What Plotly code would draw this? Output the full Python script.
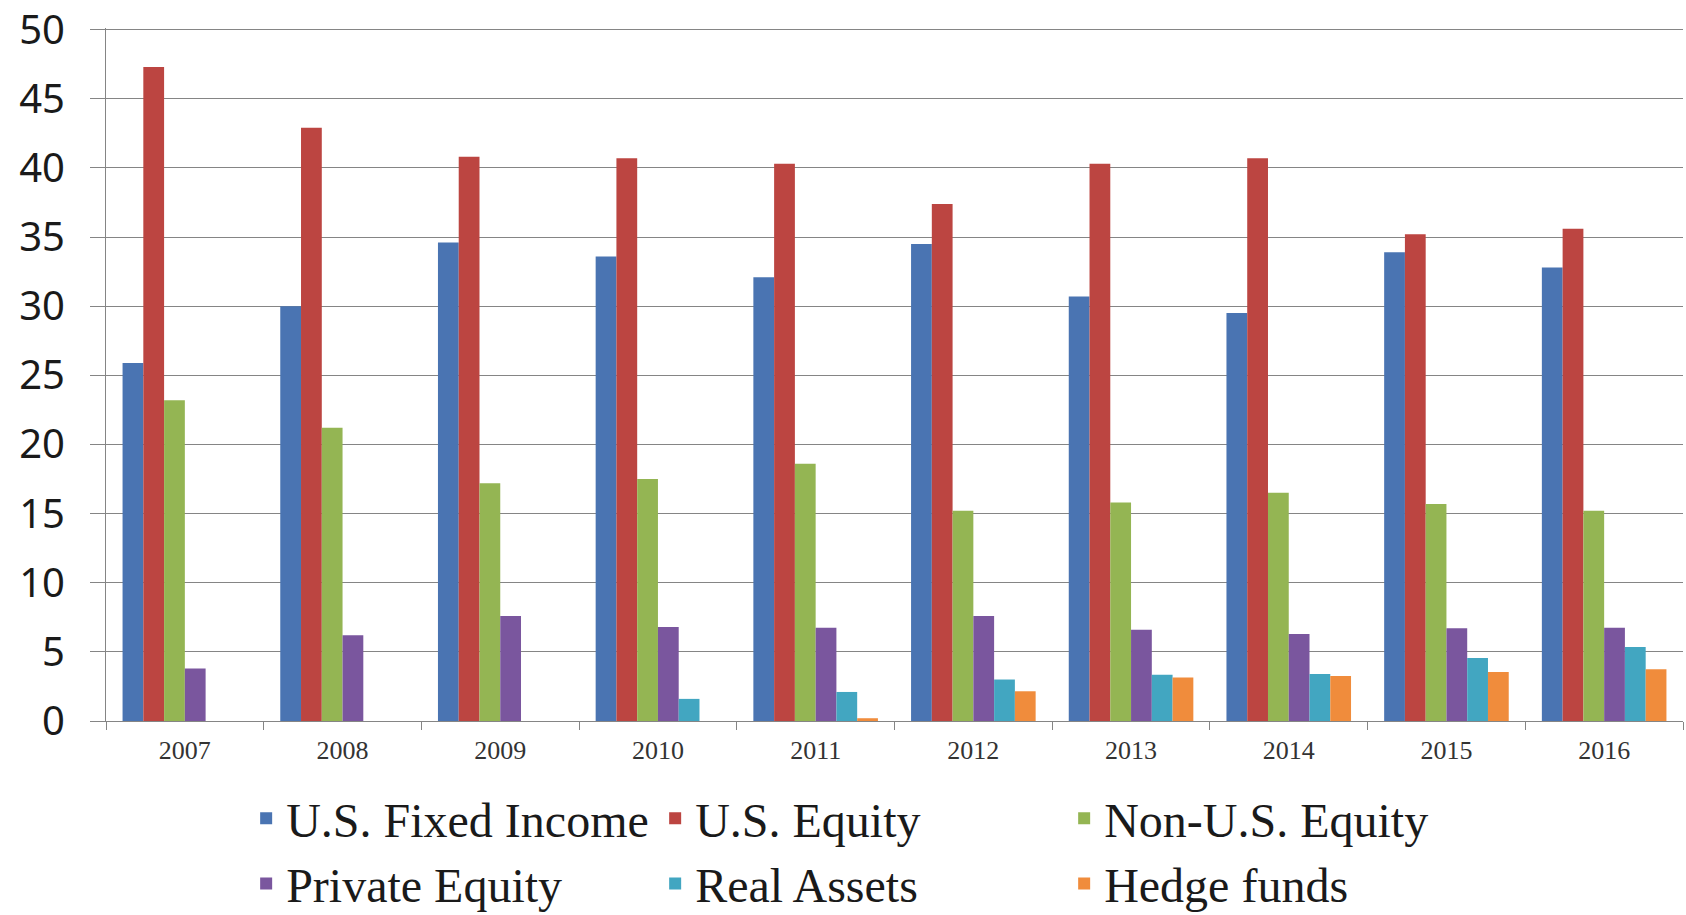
import plotly.graph_objects as go

years = ["2007", "2008", "2009", "2010", "2011", "2012", "2013", "2014", "2015", "2016"]
us_fixed_income = [25.9, 30.0, 34.6, 33.6, 32.1, 34.5, 30.7, 29.5, 33.9, 32.8]
us_equity = [47.3, 42.9, 40.8, 40.7, 40.3, 37.4, 40.3, 40.7, 35.2, 35.6]
non_us_equity = [23.2, 21.2, 17.2, 17.5, 18.6, 15.2, 15.8, 16.5, 15.7, 15.2]
private_equity = [3.8, 6.2, 7.6, 6.8, 6.75, 7.6, 6.6, 6.3, 6.7, 6.75]
real_assets = [0, 0, 0, 1.6, 2.1, 3.0, 3.35, 3.4, 4.55, 5.35]
hedge_funds = [0, 0, 0, 0, 0.2, 2.15, 3.15, 3.25, 3.55, 3.75]

y_ticks = [0, 5, 10, 15, 20, 25, 30, 35, 40, 45, 50]
y_tick_labels = ["0", "5", "10", "15", "20", "25", "30", "35", "40", "45", "50"]

series_names = ["U.S. Fixed Income", "U.S. Equity", "Non-U.S. Equity",
                "Private Equity", "Real Assets", "Hedge funds"]
series_values = [us_fixed_income, us_equity, non_us_equity,
                 private_equity, real_assets, hedge_funds]
colors = ["#4A74B2", "#BC4541", "#94B553", "#7A569E", "#42A6C1", "#F08C3C"]

fig = go.Figure()
for name, vals, col in zip(series_names, series_values, colors):
    fig.add_trace(go.Bar(x=years, y=vals, name=name, marker_color=col,
                         marker_line_width=0))

grid = "#858585"
fig.update_layout(
    width=1686, height=915,
    paper_bgcolor="white", plot_bgcolor="white",
    margin=dict(l=106, r=3, t=28, b=194, autoexpand=False),
    barmode="group", bargap=0.21, bargroupgap=0,
    showlegend=True,
    legend=dict(
        orientation="h", xref="container", yref="container",
        x=0.146, y=0.147, xanchor="left", yanchor="top",
        entrywidth=364, entrywidthmode="pixels",
        font=dict(family="Liberation Serif, Times New Roman, serif", size=48, color="#1a1a1a"),
        traceorder="normal", bgcolor="rgba(0,0,0,0)",
    ),
    xaxis=dict(
        type="category", tickson="boundaries", ticks="outside", ticklen=8,
        tickcolor=grid, showline=True, linecolor=grid, linewidth=1,
        showgrid=False, automargin=False,
        tickfont=dict(family="Liberation Serif, Times New Roman, serif", size=26, color="#333333"),
        ticklabelstandoff=6,
    ),
    yaxis=dict(
        range=[0, 50.12], tickvals=y_ticks, ticktext=y_tick_labels,
        showgrid=True, gridcolor=grid, gridwidth=1, automargin=False,
        showline=True, linecolor=grid, linewidth=1, ticks="outside", ticklen=15,
        tickcolor=grid, zeroline=False, ticklabeloverflow="allow",
        tickfont=dict(family="Noto Sans, Open Sans, sans-serif", size=40, color="#1a1a1a"),
        ticklabelstandoff=17,
    ),
)

fig.write_html("out.html", config={"displayModeBar": False},
               post_script="document.body.style.margin='0';document.body.style.padding='0';")
